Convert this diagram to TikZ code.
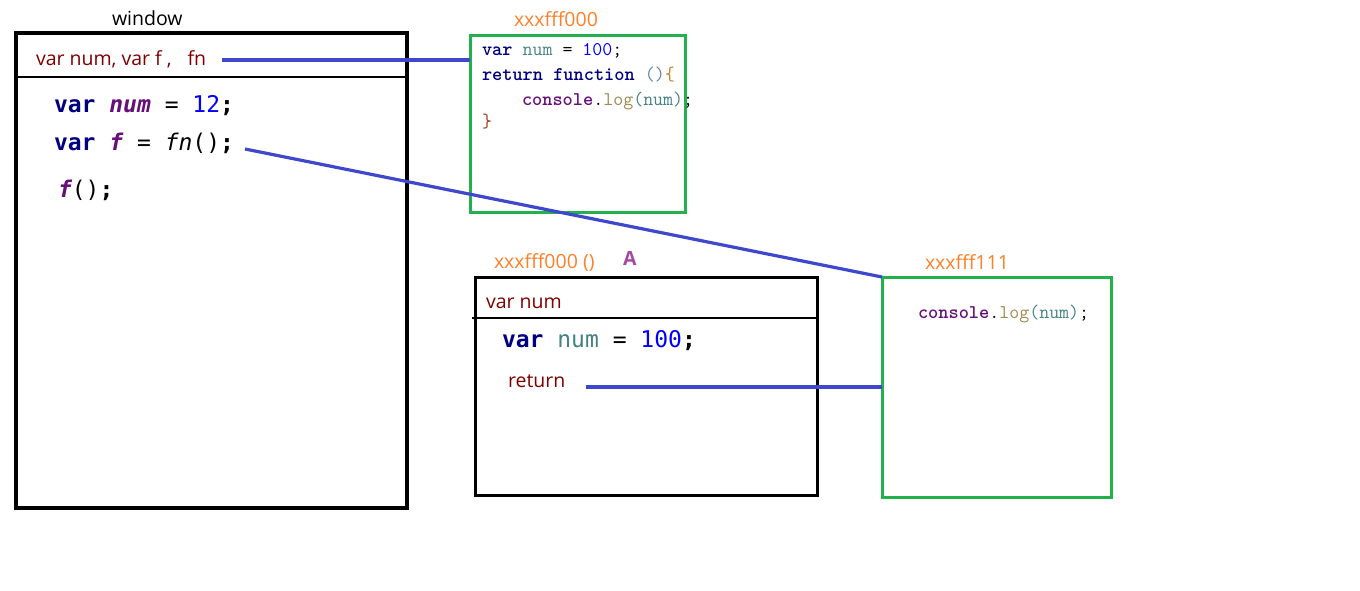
\documentclass[tikz,border=0pt]{standalone}
\usepackage{fontspec}
\setmainfont{Open Sans}
\newfontfamily\monobold{DejaVu Sans Mono}

\definecolor{frameblack}{HTML}{000000}
\definecolor{linkblue}{HTML}{3F48CC}
\definecolor{boxgreen}{HTML}{22B14C}
\definecolor{addrorange}{HTML}{FF7F27}
\definecolor{markpurple}{HTML}{A349A4}
\definecolor{labelred}{HTML}{800000}
\definecolor{kwnavy}{HTML}{000080}
\definecolor{varpurple}{HTML}{660E7A}
\definecolor{numblue}{HTML}{0000FF}
\definecolor{localteal}{HTML}{458383}
\definecolor{methodtan}{HTML}{A08850}
\definecolor{parengray}{HTML}{6080A8}
\definecolor{braceorange}{HTML}{C08020}
\definecolor{bracebrown}{HTML}{9A3A1A}

\tikzset{
  frame/.style={draw=frameblack, line width=4pt, minimum width=#1, outer sep=0pt, inner sep=0pt},
  heapbox/.style={draw=boxgreen, line width=3pt, outer sep=0pt, inner sep=0pt},
  scopebox/.style={draw=frameblack, line width=3pt, outer sep=0pt, inner sep=0pt},
  divider/.style={draw=frameblack, line width=2.2pt},
  link/.style={draw=linkblue, line width=3.2pt},
  txt/.style={anchor=base west, inner sep=0pt, outer sep=0pt},
  label/.style={txt, font=\fontsize{19.5}{21}\selectfont},
  bigcode/.style={txt, font=\monobold\fontsize{23}{26}\selectfont},
  smallcode/.style={txt, font=\ttfamily\fontsize{19.4}{22}\selectfont},
}

\begin{document}
\begin{tikzpicture}[x=1pt, y=-1pt]
\useasboundingbox (0,0) rectangle (1360,591);

% global scope: window
\node[frame=391pt, minimum height=475pt] (win) at (211.5,270.5) {};
\draw[divider] (16,77) -- (409,77);
\node[label] (wintitle) at (112,26) {window};
\node[label, text=labelred] (winvars) at (36,66) {var num, var f ,\hspace{16pt}fn};
\coordinate (winvarsend) at (222,60);

\node[bigcode] (l1) at (54,113) {\textcolor{kwnavy}{\bfseries var} \textcolor{varpurple}{\bfseries\itshape num} = \textcolor{numblue}{12}\textbf{;}};
\node[bigcode] (l2) at (54,150) {\textcolor{kwnavy}{\bfseries var} \textcolor{varpurple}{\bfseries\itshape f} = \textit{fn}()\textbf{;}};
\node[bigcode] (l3) at (58,197) {\textcolor{varpurple}{\bfseries\itshape f}()\textbf{;}};
\coordinate (l2end) at (245,149);

% heap object of fn
\node[heapbox, minimum width=215pt, minimum height=176pt] (g0) at (577.5,124) {};
\node[label, text=addrorange] (g0addr) at (514,27) {xxxfff000};
\node[smallcode] (g0a) at (482,56) {\textcolor{kwnavy}{\bfseries var} \textcolor{localteal}{num} = \textcolor{numblue}{100};};
\node[smallcode] (g0b) at (482,81) {\textcolor{kwnavy}{\bfseries return function} \textcolor{parengray}{()}\textcolor{braceorange}{\{}};
\node[smallcode] (g0c) at (522,106) {\textcolor{varpurple}{\bfseries console}.\textcolor{methodtan}{log}\textcolor{localteal}{(num)};};
\node[smallcode, text=bracebrown] (g0d) at (482,128) {\}};

% execution scope of fn()
\node[scopebox, minimum width=342pt, minimum height=218pt] (sa) at (646,386) {};
\draw[divider] (472,318) -- (817,318);
\node[label, text=addrorange] (saaddr) at (494,268) {xxxfff000 ()};
\node[label, text=markpurple, font=\bfseries\fontsize{19.5}{21}\selectfont] (samark) at (623,265) {A};
\node[label, text=labelred] (savars) at (486,308) {var num};
\node[bigcode] (sa1) at (502,347) {\textcolor{kwnavy}{\bfseries var} \textcolor{localteal}{num} = \textcolor{numblue}{100}\textbf{;}};
\node[label, text=labelred] (saret) at (508,387) {return};
\coordinate (saretend) at (586,387);

% heap object of the returned function
\node[heapbox, minimum width=229pt, minimum height=220pt] (g1) at (996.5,387) {};
\node[label, text=addrorange] (g1addr) at (925,269) {xxxfff111};
\node[smallcode] (g1a) at (918,318) {\textcolor{varpurple}{\bfseries console}.\textcolor{methodtan}{log}\textcolor{localteal}{(num)};};

% references
\draw[link] (winvarsend) -- (g0.west |- winvarsend);
\draw[link] (l2end) -- (g1.north west);
\draw[link] (saretend) -- (g1.west |- saretend);
\end{tikzpicture}
\end{document}
